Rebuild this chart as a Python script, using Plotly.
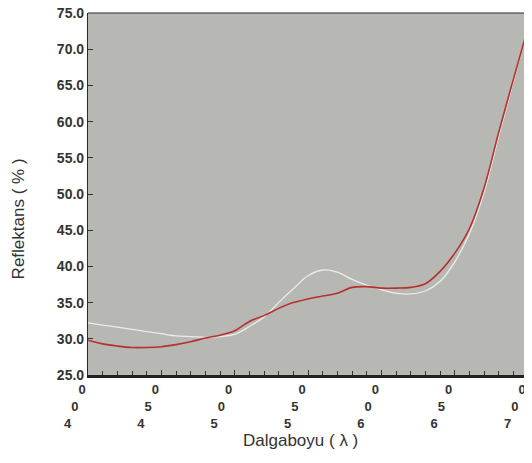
import plotly.graph_objects as go

# Dalga boyu (nm) ve iki ölçümün reflektans değerleri
dalgaboyu = [400, 410, 420, 430, 440, 450, 460, 470, 480, 490, 500,
             510, 520, 530, 540, 550, 560, 570, 580, 590, 600,
             610, 620, 630, 640, 650, 660, 670, 680, 690, 700]
kirmizi = [29.8, 29.3, 29.0, 28.8, 28.8, 28.9, 29.2, 29.6, 30.1, 30.5, 31.1,
           32.4, 33.2, 34.2, 35.0, 35.5, 35.9, 36.3, 37.1, 37.2, 37.0,
           37.0, 37.1, 37.6, 39.3, 41.8, 45.2, 50.8, 58.5, 65.8, 73.0]
beyaz = [32.2, 31.9, 31.6, 31.3, 31.0, 30.7, 30.4, 30.3, 30.2, 30.3, 30.6,
         31.7, 33.0, 35.0, 36.9, 38.7, 39.5, 39.2, 38.2, 37.4, 36.8,
         36.3, 36.2, 36.6, 37.9, 40.6, 44.5, 50.2, 58.0, 65.5, 73.0]

x_ticks = [400, 450, 500, 550, 600, 650, 700]
y_ticks = [25, 30, 35, 40, 45, 50, 55, 60, 65, 70, 75]

nb = "\u00a0"
# rakamlar alt alta, hafif kayık yazılmış
x_text = []
for v in x_ticks:
    s = str(v)
    x_text.append(s[2] + "<br>" + s[1] + nb * 4 + "<br>" + s[0] + nb * 8)

tick_font = dict(family="Liberation Sans, Arial, sans-serif",
                 size=14, color="#333333", weight="bold")

fig = go.Figure()
fig.add_trace(go.Scatter(x=dalgaboyu, y=beyaz, mode="lines", line_shape="spline",
                         line=dict(color="#ececea", width=1.3)))
fig.add_trace(go.Scatter(x=dalgaboyu, y=kirmizi, mode="lines", line_shape="spline",
                         line=dict(color="#b5302e", width=1.6)))

# sayfa gövdesinin 8px kenar boşluğu hesaba katıldı
fig.update_layout(
    width=524, height=447,
    margin=dict(l=80, r=4, t=5, b=80),
    paper_bgcolor="white",
    plot_bgcolor="#b7b8b3",
    showlegend=False,
    xaxis=dict(range=[400, 700], tickvals=x_ticks, ticktext=x_text,
               ticks="inside", ticklen=5, tickcolor="#333333",
               minor=dict(dtick=10, ticks="inside", ticklen=4, tickcolor="#333333"),
               showgrid=False, zeroline=False, showline=True, mirror=False,
               linecolor="#222222", linewidth=2.5, tickfont=dict(tick_font, size=13),
               ticklabelshift=-6, ticklabelstandoff=1, tickangle=0, automargin=False,
               ticklabeloverflow="allow"),
    yaxis=dict(range=[25, 75], tickvals=y_ticks,
               ticktext=["%.1f" % v for v in y_ticks],
               ticks="inside", ticklen=5, tickcolor="#333333",
               showgrid=False, zeroline=False, showline=True, mirror=False,
               linecolor="#2a2a2a", linewidth=1.2, tickfont=tick_font,
               automargin=False, ticklabeloverflow="allow"),
)

# çerçevenin üst ve sağ kenarı
fig.add_shape(type="line", xref="paper", yref="paper", x0=0, x1=1, y0=1, y1=1,
              line=dict(color="#2a2a2a", width=1.2))
fig.add_shape(type="line", xref="paper", yref="paper", x0=1, x1=1, y0=0, y1=1,
              line=dict(color="#2a2a2a", width=2.5))

fig.add_annotation(text="Reflektans ( % )", xref="paper", yref="paper",
                   x=-0.159, y=0.43, textangle=-90, showarrow=False,
                   xanchor="center", yanchor="middle",
                   font=dict(family="Liberation Sans, Arial, sans-serif", size=17,
                             color="#333333"))
fig.add_annotation(text="Dalgaboyu ( λ )", xref="paper", yref="paper",
                   x=0.482, y=-0.18, showarrow=False,
                   xanchor="center", yanchor="middle",
                   font=dict(family="Liberation Sans, Arial, sans-serif", size=17,
                             color="#333333"))

fig.write_html("out.html")
